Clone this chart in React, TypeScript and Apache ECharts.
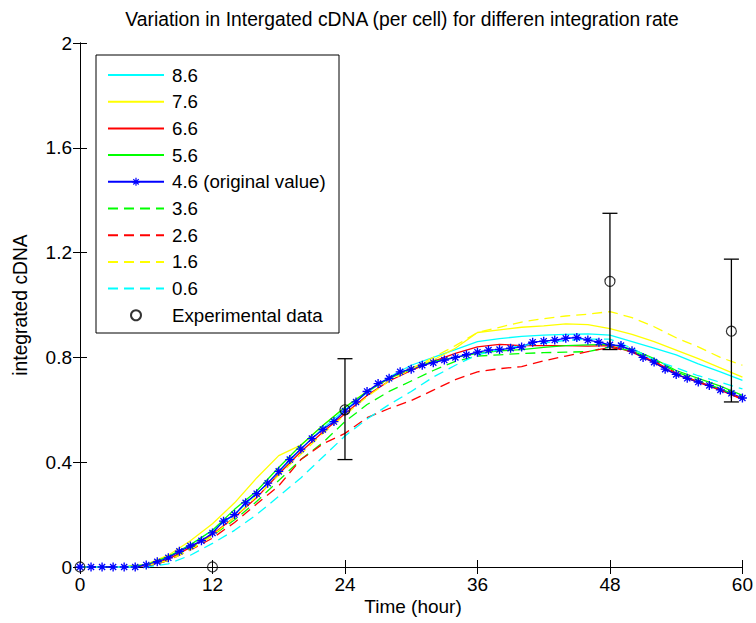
import React, { useEffect, useRef } from "react";
import * as echarts from "echarts";

// ---------- data ----------
const HOURS_1 = [0,1,2,3,4,5,6,7,8,9,10,11,12,13,14,15,16,17,18,19,20,21,22,23,24,25,26,27,28,29,30,31,32,33,34,35,36,37,38,39,40,41,42,43,44,45,46,47,48,49,50,51,52,53,54,55,56,57,58,59,60];
const HOURS_2 = [0,2,4,6,8,10,12,14,16,18,20,22,24,26,28,30,32,34,36,38,40,42,44,46,48,50,52,54,56,58,60];

const RATE_4_6 = [0,0,0,0,0,0,0.008,0.02,0.035,0.06,0.08,0.1,0.13,0.175,0.2,0.245,0.28,0.32,0.365,0.41,0.45,0.49,0.525,0.555,0.595,0.63,0.67,0.7,0.72,0.745,0.755,0.77,0.78,0.79,0.8,0.81,0.82,0.828,0.83,0.835,0.84,0.858,0.862,0.866,0.873,0.876,0.866,0.858,0.848,0.845,0.825,0.8,0.782,0.755,0.735,0.72,0.706,0.693,0.676,0.663,0.645];

const RATE_8_6 = [0,0,0,0.01,0.04,0.085,0.14,0.2,0.28,0.36,0.45,0.53,0.6,0.665,0.725,0.77,0.8,0.83,0.86,0.872,0.88,0.885,0.888,0.89,0.885,0.86,0.835,0.81,0.775,0.745,0.712];
const RATE_7_6 = [0,0,0,0.01,0.045,0.1,0.165,0.245,0.34,0.425,0.465,0.54,0.61,0.67,0.72,0.76,0.79,0.835,0.895,0.905,0.915,0.92,0.928,0.925,0.91,0.888,0.86,0.828,0.795,0.76,0.725];
const RATE_6_6 = [0,0,0,0.005,0.03,0.075,0.125,0.19,0.265,0.355,0.44,0.515,0.585,0.655,0.71,0.75,0.785,0.815,0.84,0.85,0.845,0.845,0.845,0.843,0.845,0.82,0.78,0.735,0.705,0.675,0.64];
const RATE_5_6 = [0,0,0,0.008,0.04,0.085,0.14,0.22,0.29,0.38,0.465,0.54,0.61,0.67,0.72,0.755,0.785,0.8,0.815,0.825,0.83,0.838,0.845,0.848,0.85,0.832,0.795,0.75,0.72,0.69,0.655];
const RATE_3_6 = [0,0,0,0,0.025,0.07,0.12,0.18,0.25,0.33,0.41,0.475,0.555,0.62,0.67,0.71,0.75,0.785,0.805,0.81,0.815,0.818,0.82,0.822,0.84,0.825,0.79,0.745,0.712,0.68,0.648];
const RATE_2_6 = [0,0,0,0,0.025,0.065,0.11,0.17,0.24,0.31,0.41,0.47,0.51,0.57,0.605,0.635,0.675,0.715,0.745,0.757,0.765,0.787,0.805,0.822,0.838,0.822,0.785,0.74,0.708,0.675,0.642];
const RATE_1_6 = [0,0,0,0.005,0.025,0.065,0.12,0.19,0.27,0.35,0.43,0.51,0.58,0.65,0.71,0.755,0.8,0.845,0.895,0.915,0.935,0.948,0.958,0.965,0.975,0.952,0.917,0.875,0.84,0.8,0.77];
const RATE_0_6 = [0,0,0,0,0.012,0.045,0.09,0.14,0.2,0.27,0.34,0.42,0.5,0.565,0.62,0.67,0.725,0.77,0.81,0.83,0.845,0.855,0.865,0.87,0.87,0.835,0.79,0.76,0.73,0.705,0.68];

const EXP_X = [0, 12, 24, 48, 59];
const EXP_Y = [0, 0, 0.6, 1.09, 0.9];
const ERR_X = [24, 48, 59];
const ERR_LOW = [0.41, 0.83, 0.63];
const ERR_HIGH = [0.795, 1.35, 1.175];

const X_TICKS = { min: 0, max: 60, interval: 12 };
const Y_TICKS = { min: 0, max: 2, interval: 0.4 };

const LEGEND_NAMES = ["8.6", "7.6", "6.6", "5.6", "4.6 (original value)", "3.6", "2.6", "1.6", "0.6", "Experimental data"];
const LEGEND_WITH_MARKER = ["4.6 (original value)", "Experimental data"];

const TITLE = "Variation in Intergated cDNA (per cell) for differen integration rate";
const X_NAME = "Time (hour)";
const Y_NAME = "integrated cDNA";

// ---------- styles ----------
const FONT = "Liberation Sans";
const FS = 19;
const FS_TITLE = 19.3;
const FS_LEGEND = 18.7;
const STAR =
  "path://M4.25 0H5.75V10H4.25Z M0 4.25H10V5.75H0Z M2.1 1.1L8.9 7.9L7.9 8.9L1.1 2.1Z M7.9 1.1L8.9 2.1L2.1 8.9L1.1 7.9Z";

function pairs(xs: number[], ys: number[]) {
  return xs.map((x, i) => [x, ys[i]]);
}

function lineSeries(name: string, xs: number[], ys: number[], color: string, dashed: boolean) {
  return {
    name,
    type: "line",
    data: pairs(xs, ys),
    symbol: "none",
    clip: false,
    lineStyle: { color, width: 1.3, type: dashed ? [10, 6] : "solid" },
    itemStyle: { color },
    z: 2,
  };
}

export default function App() {
  const ref = useRef<HTMLDivElement>(null);

  useEffect(() => {
    document.body.style.margin = "0";
    if (!ref.current) return;
    const chart = echarts.init(ref.current, undefined, { renderer: "svg" });

    const axisCommon = {
      type: "value",
      axisLine: { show: true, lineStyle: { color: "#000", width: 1 } },
      axisTick: { show: true, inside: true, length: 7, lineStyle: { color: "#000" } },
      splitLine: { show: false },
    };

    const option = {
      animation: false,
      backgroundColor: "#fff",
      textStyle: { fontFamily: FONT },
      grid: { left: 80, right: 10, top: 43, bottom: 56 },
      xAxis: [
        {
          ...axisCommon,
          ...X_TICKS,
          position: "bottom",
          axisLabel: { color: "#000", fontSize: FS, fontFamily: FONT, margin: 8 },
        },
        {
          ...axisCommon,
          ...X_TICKS,
          position: "top",
          axisLabel: { show: false },
        },
      ],
      yAxis: [
        {
          ...axisCommon,
          ...Y_TICKS,
          position: "left",
          axisLabel: { color: "#000", fontSize: FS, fontFamily: FONT, margin: 8 },
        },
        {
          ...axisCommon,
          ...Y_TICKS,
          position: "right",
          axisLabel: { show: false },
        },
      ],
      legend: {
        orient: "vertical",
        left: 107,
        top: 65.5,
        padding: 0,
        itemWidth: 56,
        itemHeight: 10,
        itemGap: 7.7,
        selectedMode: false,
        z: 10,
        textStyle: { fontSize: FS_LEGEND, fontFamily: FONT, color: "#000", padding: [0, 0, 0, 3] },
        data: LEGEND_NAMES.map((n) =>
          LEGEND_WITH_MARKER.indexOf(n) >= 0
            ? { name: n }
            : { name: n, itemStyle: { color: "rgba(0,0,0,0)", borderWidth: 0, opacity: 0 } }
        ),
      },
      graphic: [
        {
          type: "rect",
          z: 3,
          shape: { x: 96, y: 55, width: 243, height: 278 },
          style: { fill: "#fff", stroke: "#000", lineWidth: 1 },
        },
        {
          type: "text",
          x: 402,
          y: 19,
          style: { text: TITLE, fontSize: FS_TITLE, fontFamily: FONT, fill: "#000", textAlign: "center", textVerticalAlign: "middle" },
        },
        {
          type: "text",
          x: 413,
          y: 606,
          style: { text: X_NAME, fontSize: FS, fontFamily: FONT, fill: "#000", textAlign: "center", textVerticalAlign: "middle" },
        },
        {
          type: "text",
          x: 20,
          y: 305,
          rotation: Math.PI / 2,
          style: { text: Y_NAME, fontSize: FS_TITLE, fontFamily: FONT, fill: "#000", textAlign: "center", textVerticalAlign: "middle" },
        },
      ],
      series: [
        lineSeries("8.6", HOURS_2, RATE_8_6, "#00ffff", false),
        lineSeries("7.6", HOURS_2, RATE_7_6, "#ffff00", false),
        lineSeries("6.6", HOURS_2, RATE_6_6, "#ff0000", false),
        lineSeries("5.6", HOURS_2, RATE_5_6, "#00ff00", false),
        {
          name: "4.6 (original value)",
          type: "line",
          data: pairs(HOURS_1, RATE_4_6),
          symbol: STAR,
          symbolSize: 9,
          showSymbol: true,
          clip: false,
          lineStyle: { color: "#0000ff", width: 1.3 },
          itemStyle: { color: "#0000ff" },
          z: 2,
        },
        lineSeries("3.6", HOURS_2, RATE_3_6, "#00ff00", true),
        lineSeries("2.6", HOURS_2, RATE_2_6, "#ff0000", true),
        lineSeries("1.6", HOURS_2, RATE_1_6, "#ffff00", true),
        lineSeries("0.6", HOURS_2, RATE_0_6, "#00ffff", true),
        {
          name: "Experimental data",
          type: "scatter",
          data: pairs(EXP_X, EXP_Y),
          symbol: "circle",
          symbolSize: 10,
          clip: false,
          itemStyle: { color: "rgba(0,0,0,0)", borderColor: "#000", borderWidth: 1.2 },
          z: 5,
        },
        {
          name: "errorbars",
          type: "custom",
          data: ERR_X.map((x, i) => [x, ERR_LOW[i], ERR_HIGH[i]]),
          encode: { x: 0, y: [1, 2] },
          clip: false,
          silent: true,
          z: 5,
          renderItem: (params: any, api: any) => {
            const x = api.value(0);
            const lo = api.coord([x, api.value(1)]);
            const hi = api.coord([x, api.value(2)]);
            const w = 7.5;
            const style = { stroke: "#000", lineWidth: 1.3, fill: "none" };
            return {
              type: "group",
              children: [
                { type: "line", shape: { x1: lo[0], y1: lo[1], x2: hi[0], y2: hi[1] }, style },
                { type: "line", shape: { x1: lo[0] - w, y1: lo[1], x2: lo[0] + w, y2: lo[1] }, style },
                { type: "line", shape: { x1: hi[0] - w, y1: hi[1], x2: hi[0] + w, y2: hi[1] }, style },
              ],
            };
          },
        },
      ],
    };

    chart.setOption(option as any);
    return () => chart.dispose();
  }, []);

  return <div ref={ref} style={{ width: 756, height: 623 }} />;
}
